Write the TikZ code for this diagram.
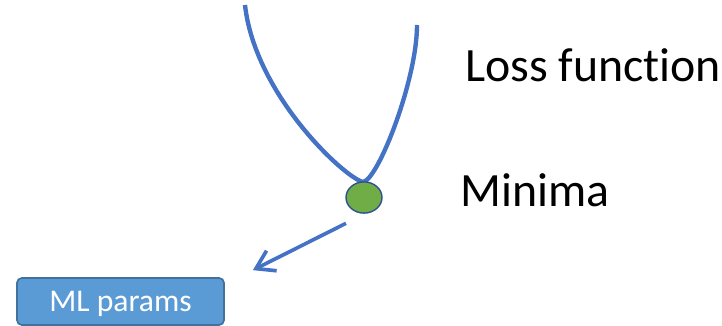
\documentclass[tikz,border=0pt]{standalone}
\usepackage{fontspec}
\setmainfont{Carlito}[Ligatures=NoCommon]
\usetikzlibrary{arrows.meta,calc,shapes.geometric}

\definecolor{curveblue}{HTML}{4472C4}
\definecolor{dotgreen}{HTML}{70AD47}
\definecolor{dotedge}{HTML}{2F528F}
\definecolor{boxfill}{HTML}{5B9BD5}
\definecolor{boxedge}{HTML}{41719C}

\tikzset{
	bigtext/.style={anchor=base west, inner sep=0pt, font=\fontsize{34}{40}\selectfont},
	parambox/.style={draw=boxedge, line width=1.2pt, fill=boxfill, rounded corners=3.5pt, text=white, minimum width=5.175cm, minimum height=1.175cm, text depth=0pt, font=\fontsize{22.5}{26}\selectfont},
}

\begin{document}
\begin{tikzpicture}[x=0.025cm, y=-0.025cm]
	\useasboundingbox (0,0) rectangle (722,326);
	% the loss curve
	\draw[curveblue, line width=3.1pt, line join=round] (245,5) .. controls (255,95) and (345,178) .. (363,182) .. controls (378,180) and (417,80) .. (417,25);
	\node[draw=dotedge, line width=1pt, fill=dotgreen, ellipse, minimum width=0.9cm, minimum height=0.78cm, inner sep=0pt] (minima) at (364,197.5) {};
	\node[bigtext] (loss) at (465,82) {Loss function};
	\node[bigtext] (minlabel) at (460,207) {Minima};
	\node[parambox] (params) at (120.5,301.5) {ML params};
	\draw[curveblue, line width=2.6pt, -{Straight Barb[length=12.5pt, width=16pt, line width=2.6pt]}] ($(minima.south)+(-18,9.5)$) -- ($(params.north east)+(28,-7)$);
\end{tikzpicture}
\end{document}
